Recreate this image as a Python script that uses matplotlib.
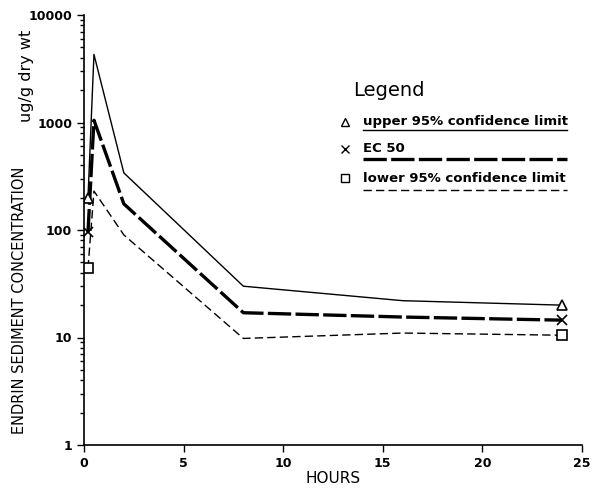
import matplotlib
matplotlib.use("Agg")
import matplotlib.pyplot as plt
from matplotlib.lines import Line2D
import numpy as np

hours = [0.2, 0.5, 2, 8, 16, 24]
upper = [200, 4300, 340, 30, 22, 20]
ec50 = [95, 1050, 175, 17, 15.5, 14.5]
lower = [44, 230, 90, 9.8, 11, 10.5]
xticks = [0, 5, 10, 15, 20, 25]
yticks = [1, 10, 100, 1000, 10000]
ytick_labels = ["1", "10", "100", "1000", "10000"]

fig = plt.figure(figsize=(5.98, 4.93), dpi=100)
ax = fig.add_axes([84/598, 48/493, (582-84)/598, (445-15)/493])

ec_style = dict(lw=2.4, ls=(0, (7, 1.3)))
lo_style = dict(lw=1.0, ls=(0, (6, 3)))
ax.plot(hours, upper, color="black", lw=1.0, ls="-")
ax.plot(hours, ec50, color="black", **ec_style)
ax.plot(hours, lower, color="black", **lo_style)

ms = 6.5
for vals, mk in [(upper, "^"), (ec50, "x"), (lower, "s")]:
    ax.plot([hours[0], hours[-1]], [vals[0], vals[-1]], ls="none", marker=mk,
            ms=ms, mfc="white", mec="black", mew=1.2, color="black")

ax.set_yscale("log")
ax.set_xlim(0, 25)
ax.set_ylim(1, 10000)
ax.set_xticks(xticks)
ax.set_xticklabels([str(x) for x in xticks], fontsize=9, fontweight="bold")
ax.set_yticks(yticks)
ax.set_yticklabels(ytick_labels, fontsize=9, fontweight="bold")
ax.tick_params(axis="both", which="major", length=5, width=1, direction="out")
ax.tick_params(axis="y", which="minor", length=3, width=1, direction="out")
for s in ["top", "right"]:
    ax.spines[s].set_visible(False)
for s in ["left", "bottom"]:
    ax.spines[s].set_linewidth(1.2)

ax.set_xlabel("HOURS", fontsize=11, labelpad=1)
fig.text(20/598, 1 - 300/493, "ENDRIN SEDIMENT CONCENTRATION", rotation=90,
         ha="center", va="center", fontsize=10.5)
fig.text(27/598, 1 - 76/493, "ug/g dry wt", rotation=90,
         ha="center", va="center", fontsize=11.5)

# Legend
fig.text(353/598, 1 - 90/493, "Legend", fontsize=14, ha="left", va="center")
entries = [
    ("upper 95% confidence limit", "^", 122, 130, dict(lw=1.0, ls="-")),
    ("EC 50", "x", 149, 159, ec_style),
    ("lower 95% confidence limit", "s", 178, 190, lo_style),
]
for label, mk, ty, ly, style in entries:
    fig.add_artist(Line2D([345/598], [1 - ty/493], marker=mk, ms=6, mfc="white",
                          mec="black", mew=1.0, ls="none", transform=fig.transFigure))
    fig.text(363/598, 1 - ty/493, label, fontsize=9.5, fontweight="bold",
             ha="left", va="center")
    fig.add_artist(Line2D([363/598, 567/598], [1 - ly/493, 1 - ly/493], color="black",
                          transform=fig.transFigure, **style))

fig.savefig("out.png", dpi=100)
